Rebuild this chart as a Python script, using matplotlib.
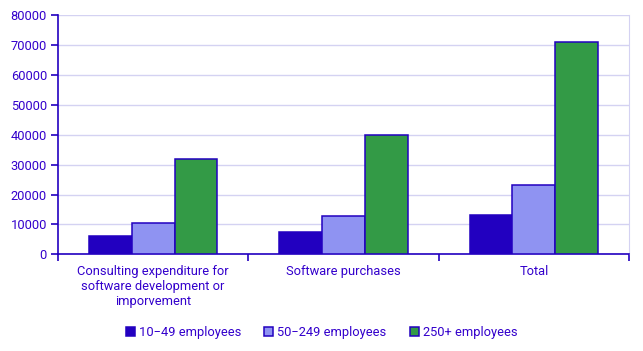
import matplotlib
matplotlib.use("Agg")
import matplotlib.pyplot as plt
import numpy as np

categories = ["Consulting expenditure for\nsoftware development or\nimporvement", "Software purchases", "Total"]
series_names = ["10\u221249 employees", "50\u2212249 employees", "250+ employees"]
small = [6100, 7450, 13150]
medium = [10350, 12700, 23100]
large = [31800, 39800, 70900]
yticks = [0, 10000, 20000, 30000, 40000, 50000, 60000, 70000, 80000]

colors = ["#2200c0", "#8f93f2", "#339a46"]
edge = "#2200c0"
textc = "#3300cc"
fs = 9.3

plt.rcParams['font.family'] = ['Roboto', 'DejaVu Sans']

fig = plt.figure(figsize=(6.43, 3.51), dpi=100)
ax = fig.add_axes([58/643, 1-254.3/351, (629-58)/643, (254.3-15.3)/351])

x = np.arange(len(categories))
w = 0.225
for i, (vals, name) in enumerate(zip([small, medium, large], series_names)):
    ax.bar(x + (i-1)*w, vals, width=w, color=colors[i], edgecolor=edge, linewidth=1.1,
           label=name, zorder=3)

ax.set_xlim(-0.5, 2.5)
ax.set_ylim(0, 80000)
ax.set_yticks(yticks)
ax.set_yticklabels([str(v) for v in yticks], color=textc, fontsize=fs)
ax.yaxis.grid(True, color="#d4d2f2", linewidth=1.0, zorder=0)
ax.set_axisbelow(True)

ax.set_xticks(x)
ax.set_xticklabels(categories, color=textc, fontsize=fs)
ax.set_xticks([-0.5, 0.5, 1.5, 2.5], minor=True)
ax.tick_params(axis='x', which='major', length=0, pad=8)
ax.tick_params(axis='x', which='minor', length=5, color=edge, width=1.2)
ax.tick_params(axis='y', length=5, color=edge, width=1.2, pad=3)

ax.spines['top'].set_visible(False)
ax.spines['right'].set_color("#d4d2f2")
ax.spines['left'].set_color(edge)
ax.spines['bottom'].set_color(edge)
ax.spines['left'].set_linewidth(1.2)
ax.spines['bottom'].set_linewidth(1.2)

leg = fig.legend(loc='lower center', bbox_to_anchor=(0.5, 0.0), ncol=3, frameon=False,
                 fontsize=fs, handlelength=0.7, handleheight=0.7, handletextpad=0.3,
                 columnspacing=1.8)
for t in leg.get_texts():
    t.set_color(textc)

fig.savefig("out.png", dpi=100)
